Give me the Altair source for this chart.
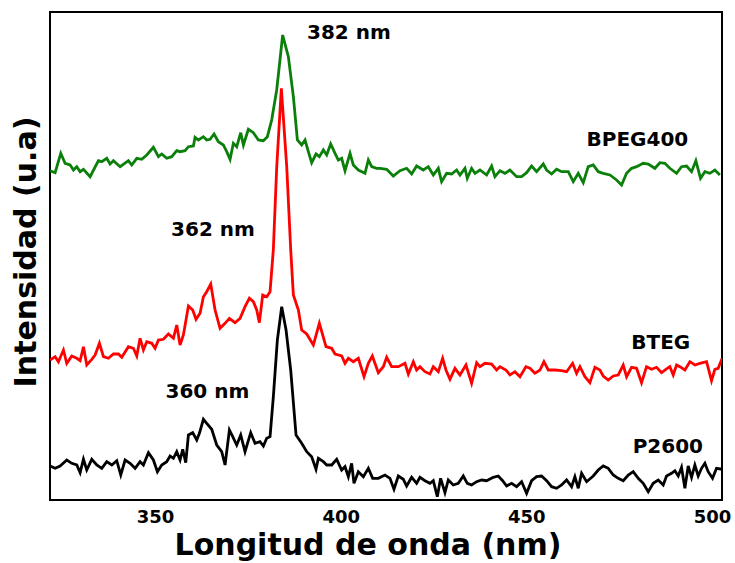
import altair as alt
import pandas as pd

# ---- BPEG400 (green) ----
green_nm = [321.73, 323.08, 324.60, 325.77, 327.12, 328.01, 328.91, 329.81, 330.71, 332.50,
            334.74, 335.64, 336.99, 337.88, 338.78, 340.58, 342.82, 343.72, 345.07, 346.41,
            347.76, 349.55, 350.90, 351.80, 353.14, 354.49, 355.84, 356.73, 358.08, 358.98,
            360.32, 360.77, 361.67, 363.02, 363.91, 364.81, 365.89, 367.05, 368.40, 369.30,
            370.20, 371.09, 371.99, 373.07, 373.79, 375.13, 376.48, 377.83, 379.17, 380.25,
            381.41, 382.76, 384.37, 385.90, 387.25, 388.33, 389.49, 390.39, 391.29, 392.18,
            393.35, 394.25, 395.33, 396.22, 397.30, 398.47, 399.36, 400.26, 401.16, 402.51,
            403.40, 404.75, 406.54, 407.44, 408.34, 409.68, 410.58, 412.38, 414.17, 415.97,
            417.76, 419.11, 420.45, 422.25, 423.59, 424.94, 426.29, 427.18, 428.53, 429.88,
            431.22, 432.12, 433.47, 434.09, 435.26, 436.16, 437.51, 439.30, 440.65, 441.54,
            442.89, 444.24, 445.58, 447.38, 448.72, 450.07, 451.42, 452.76, 454.56, 455.46,
            456.80, 458.15, 459.49, 461.29, 462.64, 463.98, 465.33, 466.67, 468.02, 469.37,
            470.71, 472.51, 474.30, 475.65, 476.99, 478.34, 479.69, 481.48, 482.83, 484.62,
            485.97, 487.32, 488.66, 490.46, 491.80, 493.15, 494.50, 495.66, 496.92, 498.09,
            499.43, 500.78, 502.13]
green_int = [329.3, 327.3, 346.7, 336.7, 335.0, 330.0, 333.3, 328.3, 330.7, 323.3,
             339.3, 338.3, 341.7, 336.0, 339.3, 333.3, 339.3, 335.0, 341.7, 340.7,
             345.0, 352.7, 343.3, 346.0, 341.7, 343.3, 349.3, 348.3, 349.3, 353.3,
             354.0, 362.7, 360.0, 363.3, 360.0, 360.7, 366.0, 358.3, 355.0, 348.3,
             340.7, 356.7, 353.3, 367.3, 355.0, 370.7, 367.3, 360.0, 359.3, 363.3,
             380.0, 410.0, 465.0, 443.3, 403.3, 360.0, 355.0, 360.0, 348.3, 337.3,
             346.0, 343.3, 350.0, 345.0, 356.0, 346.7, 340.0, 341.7, 329.3, 346.7,
             335.0, 330.0, 326.7, 340.0, 333.3, 331.7, 331.7, 330.7, 324.0, 329.3,
             331.7, 326.0, 334.0, 330.0, 333.3, 325.0, 331.7, 318.3, 326.7, 326.0,
             330.0, 325.0, 331.7, 321.7, 331.7, 326.7, 330.0, 325.0, 334.0, 323.3,
             329.3, 326.7, 330.0, 323.3, 323.3, 327.3, 334.0, 328.3, 336.0, 330.0,
             326.0, 330.7, 328.3, 328.3, 318.3, 326.7, 317.3, 333.3, 335.0, 328.3,
             326.7, 325.0, 320.0, 315.0, 326.7, 331.7, 333.3, 336.7, 336.0, 331.7,
             337.3, 336.7, 331.7, 326.7, 333.3, 334.0, 328.3, 339.3, 321.7, 328.3,
             326.7, 330.0, 325.0]

# ---- BTEG (red) ----
red_nm = [321.73, 323.08, 323.97, 325.32, 326.22, 327.56, 328.91, 329.81, 330.71, 331.60,
          332.95, 333.85, 335.01, 336.09, 337.44, 338.78, 340.13, 341.03, 342.82, 344.17,
          345.07, 345.96, 346.86, 347.76, 349.11, 350.00, 350.90, 352.25, 353.59, 354.94,
          355.84, 356.73, 357.63, 358.98, 360.14, 361.04, 362.12, 363.02, 363.91, 364.99,
          366.16, 367.50, 368.85, 370.02, 371.54, 372.89, 374.23, 375.40, 376.48, 377.38,
          378.09, 378.99, 380.07, 380.97, 381.85, 382.77, 384.01, 385.46, 386.54, 387.25,
          388.60, 389.49, 390.84, 392.63, 394.25, 396.04, 397.57, 398.47, 400.26, 401.16,
          402.06, 403.40, 404.75, 406.28, 407.44, 408.52, 410.13, 411.48, 412.38, 413.72,
          415.52, 417.31, 418.21, 419.56, 420.45, 421.35, 422.70, 424.04, 424.94, 426.29,
          427.45, 428.35, 429.43, 430.77, 432.12, 433.74, 435.26, 436.61, 437.51, 438.85,
          440.65, 441.99, 442.89, 444.51, 445.58, 446.93, 448.28, 449.89, 450.97, 452.31,
          453.66, 454.74, 455.90, 457.70, 459.49, 460.84, 462.46, 463.53, 464.43, 465.78,
          467.12, 468.47, 469.82, 470.71, 472.06, 473.41, 474.75, 476.10, 477.00, 478.34,
          479.69, 481.03, 482.38, 483.73, 485.07, 486.42, 487.58, 488.66, 489.56, 490.46,
          491.36, 492.70, 494.05, 495.39, 496.74, 498.54, 499.88, 500.78, 501.67, 502.75]
red_int = [140.0, 143.3, 138.3, 150.0, 136.7, 144.0, 141.7, 139.3, 153.3, 135.0,
           140.7, 145.0, 156.7, 143.3, 141.7, 146.0, 146.0, 142.7, 153.3, 151.7,
           144.0, 161.7, 150.0, 158.3, 156.7, 151.7, 160.0, 160.7, 166.0, 161.7,
           175.0, 155.0, 165.0, 194.0, 190.0, 180.7, 186.7, 203.3, 208.3, 216.0,
           190.0, 171.7, 176.7, 181.7, 177.3, 181.7, 193.3, 201.7, 198.3, 190.0,
           177.3, 205.0, 203.3, 208.3, 250.0, 333.3, 411.7, 333.3, 250.0, 205.0,
           190.0, 170.0, 166.0, 155.0, 176.7, 153.3, 151.7, 146.0, 144.0, 136.7,
           141.7, 138.3, 141.7, 123.3, 136.7, 144.0, 127.3, 133.3, 142.7, 133.3,
           133.3, 136.7, 126.0, 138.3, 130.0, 133.3, 128.3, 126.0, 133.3, 128.3,
           141.7, 130.0, 120.7, 131.7, 125.0, 135.0, 116.7, 137.3, 133.3, 136.7,
           136.0, 130.0, 133.3, 130.0, 125.0, 128.3, 123.3, 133.3, 131.7, 126.7,
           130.0, 138.3, 130.0, 130.0, 129.3, 128.3, 136.7, 126.7, 133.3, 123.3,
           117.3, 132.7, 130.0, 124.0, 120.0, 124.0, 125.0, 135.0, 123.3, 132.7,
           131.7, 117.3, 133.3, 130.7, 132.7, 127.3, 130.7, 133.3, 125.0, 135.0,
           133.3, 130.0, 138.3, 135.0, 136.7, 138.3, 119.3, 130.7, 131.7, 141.7]

# ---- P2600 (black) ----
black_nm = [321.73, 323.08, 324.42, 326.22, 327.56, 328.91, 329.81, 330.71, 331.60, 332.95,
            334.30, 335.64, 336.99, 338.34, 339.68, 340.76, 341.93, 343.27, 344.62, 345.96,
            346.86, 348.21, 349.55, 350.63, 351.80, 353.14, 354.04, 354.94, 355.84, 356.73,
            357.45, 358.26, 358.98, 360.14, 361.22, 361.94, 363.02, 363.91, 365.26, 366.61,
            367.95, 368.85, 370.02, 370.91, 371.99, 373.07, 374.23, 375.76, 376.93, 378.27,
            379.17, 380.07, 380.97, 381.86, 382.94, 384.11, 385.28, 386.53, 387.97, 389.49,
            390.84, 392.18, 393.35, 393.98, 395.33, 396.22, 397.57, 398.92, 400.26, 401.16,
            402.06, 402.95, 403.58, 404.75, 406.10, 407.44, 408.61, 410.13, 411.93, 413.27,
            414.35, 415.52, 416.86, 417.76, 419.11, 420.45, 421.35, 422.70, 424.04, 424.94,
            426.02, 426.91, 428.08, 428.98, 430.32, 431.67, 433.02, 434.09, 435.26, 436.61,
            437.95, 439.30, 441.10, 442.44, 443.61, 444.69, 446.03, 447.38, 448.72, 450.07,
            451.42, 452.76, 454.11, 455.46, 456.80, 458.15, 459.49, 460.84, 462.19, 463.08,
            463.98, 464.88, 466.23, 468.02, 469.37, 470.71, 472.06, 473.41, 474.75, 476.10,
            477.45, 478.79, 480.14, 481.48, 482.83, 484.17, 485.52, 486.87, 487.76, 489.11,
            490.01, 490.91, 491.80, 492.70, 493.60, 494.50, 495.39, 496.29, 497.19, 498.09,
            498.98, 500.15, 501.22, 502.75]
black_int = [34.0, 31.7, 34.0, 40.0, 36.7, 35.0, 27.3, 40.7, 30.0, 40.7,
             35.0, 31.7, 38.3, 35.0, 39.3, 25.0, 40.0, 36.7, 31.7, 38.3,
             35.0, 47.3, 40.0, 28.3, 35.0, 38.3, 44.0, 41.7, 48.3, 40.0,
             50.7, 37.3, 65.0, 67.3, 60.0, 66.7, 80.7, 76.7, 70.7, 55.0,
             48.3, 35.0, 70.0, 63.3, 55.0, 65.0, 48.3, 67.3, 56.7, 58.3,
             54.0, 61.7, 63.3, 103.3, 160.0, 193.3, 170.0, 130.0, 65.0, 56.7,
             48.3, 43.3, 30.7, 41.7, 38.3, 35.0, 35.0, 40.7, 30.0, 33.3,
             23.3, 36.7, 16.7, 28.3, 23.3, 31.7, 21.7, 21.7, 25.0, 21.7,
             10.7, 24.0, 20.7, 14.0, 22.7, 16.7, 22.7, 19.3, 16.7, 19.3,
             3.3, 21.7, 7.3, 20.0, 15.0, 16.7, 24.0, 16.7, 15.0, 18.3,
             20.0, 19.3, 22.7, 24.0, 19.3, 14.0, 16.7, 13.3, 18.3, 6.7,
             19.3, 23.3, 24.0, 19.3, 13.3, 11.7, 15.0, 20.0, 13.3, 23.3,
             11.7, 26.7, 18.3, 24.0, 30.0, 34.0, 31.7, 25.0, 21.7, 19.3,
             25.0, 28.3, 21.7, 16.7, 8.3, 16.7, 20.0, 15.0, 24.0, 26.7,
             29.3, 24.0, 32.7, 11.7, 34.0, 22.7, 35.0, 24.0, 31.7, 36.7,
             28.3, 21.7, 31.7, 30.7]

series_names = ["BPEG400", "BTEG", "P2600"]
series_colors = ["#0a7f0a", "#ff0000", "#000000"]

# annotations
ann_text = ["382 nm", "362 nm", "360 nm", "BPEG400", "BTEG", "P2600"]
ann_nm = [402.2, 365.6, 364.1, 479.9, 486.2, 488.1]
ann_int = [467, 270, 108, 360, 157, 53]

x_ticks = [350, 400, 450, 500]

rows = []
for name, xs, ys in zip(series_names, [green_nm, red_nm, black_nm], [green_int, red_int, black_int]):
    for a, b in zip(xs, ys):
        rows.append({"serie": name, "nm": a, "inten": b})
df = pd.DataFrame(rows)
ann = pd.DataFrame({"label": ann_text, "nm": ann_nm, "inten": ann_int})

FONT = "DejaVu Sans"
xscale = alt.Scale(domain=[321.7, 502.7], nice=False, zero=False)
yscale = alt.Scale(domain=[0, 488], nice=False, zero=False)

lines = alt.Chart(df).mark_line(strokeWidth=2.8, clip=True).encode(
    x=alt.X("nm:Q", scale=xscale,
            axis=alt.Axis(values=x_ticks, format="d", ticks=False, tickSize=0, domain=False, grid=False,
                          labelFont=FONT, labelFontWeight="bold", labelFontSize=18, labelColor="black",
                          labelPadding=8, labelFlush=False,
                          title="Longitud de onda (nm)", titleFont=FONT, titleFontWeight="bold",
                          titleFontSize=30, titleColor="black", titleX=317.5, titleY=45,
                          titleBaseline="middle")),
    y=alt.Y("inten:Q", scale=yscale,
            axis=alt.Axis(labels=False, ticks=False, domain=False, grid=False,
                          title="Intensidad (u.a)", titleFont=FONT, titleFontWeight="bold",
                          titleFontSize=30, titleColor="black", titleAngle=270,
                          titleX=-24, titleY=239.5, titleBaseline="middle", titleAlign="center")),
    color=alt.Color("serie:N", scale=alt.Scale(domain=series_names, range=series_colors), legend=None),
    detail="serie:N",
)

texts = alt.Chart(ann).mark_text(font=FONT, fontWeight="bold", fontSize=20, align="center",
                                 baseline="middle", color="black").encode(
    x=alt.X("nm:Q", scale=xscale),
    y=alt.Y("inten:Q", scale=yscale),
    text="label:N",
)

chart = alt.layer(lines, texts).properties(
    width=672, height=488,
    padding={"left": 50, "top": 12, "right": 13, "bottom": 63},
    autosize=alt.AutoSizeParams(type="none"),
    background="white",
).configure_view(stroke="black", strokeWidth=2)

chart.save("out.html", embed_options={"renderer": "svg", "actions": False})
